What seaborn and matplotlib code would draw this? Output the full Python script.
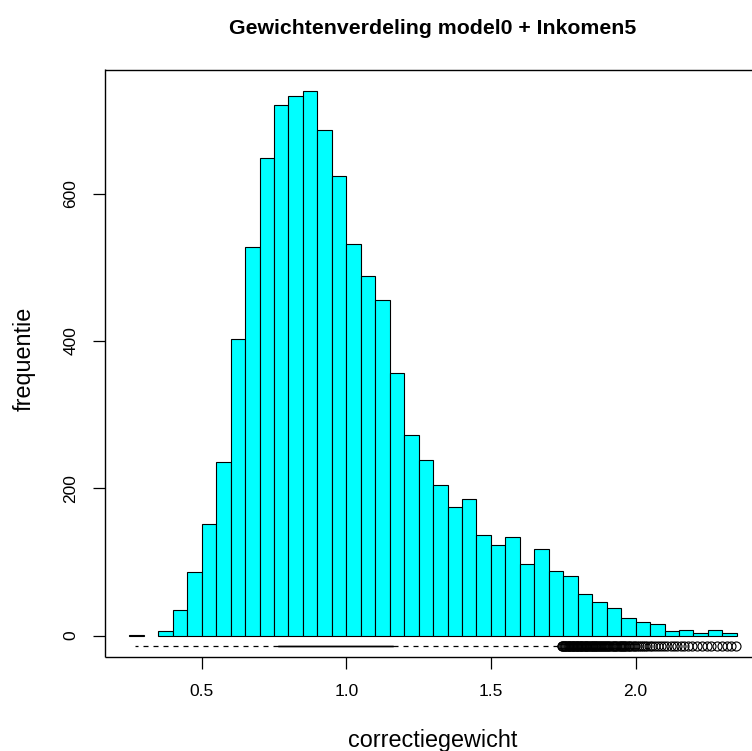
import matplotlib
matplotlib.use("Agg")
import matplotlib.pyplot as plt
import seaborn as sns

# ---- data ----
title = "Gewichtenverdeling model0 + Inkomen5"
x_label = "correctiegewicht"
y_label = "frequentie"

bin_edges = [0.25, 0.30, 0.35, 0.40, 0.45, 0.50, 0.55, 0.60, 0.65, 0.70,
             0.75, 0.80, 0.85, 0.90, 0.95, 1.00, 1.05, 1.10, 1.15, 1.20,
             1.25, 1.30, 1.35, 1.40, 1.45, 1.50, 1.55, 1.60, 1.65, 1.70,
             1.75, 1.80, 1.85, 1.90, 1.95, 2.00, 2.05, 2.10, 2.15, 2.20,
             2.25, 2.30, 2.35]
counts = [1, 0, 6, 34, 86, 151, 235, 402, 528, 648,
          720, 733, 739, 686, 624, 532, 488, 456, 356, 272,
          239, 205, 174, 185, 137, 123, 134, 97, 118, 87,
          81, 56, 45, 37, 24, 19, 15, 6, 8, 3,
          7, 3]

x_ticks = [0.5, 1.0, 1.5, 2.0]
x_tick_labels = ["0.5", "1.0", "1.5", "2.0"]
y_ticks = [0, 200, 400, 600]
y_tick_labels = ["0", "200", "400", "600"]

# boxplot summary of the same weights
box_q1 = 0.765
box_median = 0.93
box_q3 = 1.16
whisker_low = 0.27
whisker_high = 1.74
outliers = [1.744, 1.747, 1.749, 1.752, 1.755, 1.757, 1.760, 1.763, 1.766, 1.768,
            1.771, 1.774, 1.776, 1.779, 1.782, 1.785, 1.787, 1.790, 1.793, 1.796,
            1.798, 1.801, 1.804, 1.807, 1.810, 1.812, 1.815, 1.818, 1.821, 1.824,
            1.827, 1.830, 1.833, 1.836, 1.839, 1.842, 1.845, 1.848, 1.851, 1.854,
            1.858, 1.861, 1.864, 1.867, 1.871, 1.874, 1.877, 1.881, 1.884, 1.888,
            1.891, 1.895, 1.898, 1.902, 1.906, 1.909, 1.913, 1.917, 1.921, 1.925,
            1.929, 1.933, 1.937, 1.941, 1.945, 1.948, 1.952, 1.956, 1.960, 1.964,
            1.968, 1.972, 1.977, 1.982, 1.987, 1.993, 1.999, 2.006, 2.012, 2.019,
            2.026, 2.033, 2.041, 2.050, 2.058, 2.066, 2.077, 2.088, 2.097, 2.108,
            2.121, 2.132, 2.143, 2.158, 2.167, 2.181, 2.196, 2.212, 2.229, 2.247,
            2.262, 2.281, 2.299, 2.316, 2.331, 2.348]

# ---- styling ----
sns.set_theme(style="ticks")
plt.rcParams['font.family'] = ['Liberation Sans', 'DejaVu Sans']

W, H = 752, 751
fig = plt.figure(figsize=(W / 100, H / 100), dpi=100)
ax_left, ax_right, ax_top, ax_bottom = 105.0, 761.2, 69.5, 657.3
ax = fig.add_axes([ax_left / W, 1 - ax_bottom / H,
                   (ax_right - ax_left) / W, (ax_bottom - ax_top) / H])

centers = [(a + b) / 2 for a, b in zip(bin_edges[:-1], bin_edges[1:])]
sns.histplot(x=centers, weights=counts, bins=bin_edges, color="#00FFFF",
             edgecolor="black", linewidth=0.8, alpha=1, ax=ax)
for p in ax.patches:
    if p.get_height() == 0:
        p.set_visible(False)

stats = [dict(med=box_median, q1=box_q1, q3=box_q3,
              whislo=whisker_low, whishi=whisker_high, fliers=outliers)]
ax.bxp(stats, positions=[-14], widths=0.8, orientation='horizontal',
       showcaps=False, manage_ticks=False,
       boxprops=dict(color='black', lw=1.0),
       medianprops=dict(color='black', lw=1.0),
       whiskerprops=dict(color='black', lw=0.9, linestyle=(0, (4, 4))),
       flierprops=dict(marker='o', markerfacecolor='none', markeredgecolor='black',
                       markersize=6.5, markeredgewidth=0.8))

ax.set_xlim(0.166, 2.434)
ax.set_ylim(-29.56, 768.56)
ax.set_xticks(x_ticks, x_tick_labels)
ax.set_yticks(y_ticks, y_tick_labels)
ax.tick_params(axis='both', direction='out', length=8.6, width=0.9,
               color='black', labelsize=12.5, labelcolor='black', pad=10.5)
ax.tick_params(axis='y', labelrotation=90)
for lab in ax.get_yticklabels():
    lab.set_va('center')
for s in ax.spines.values():
    s.set_visible(True)
    s.set_color('black')
    s.set_linewidth(1.0)
    s.set_capstyle('butt')
ax.grid(False)

axh = ax_bottom - ax_top
axw = ax_right - ax_left
ax.set_xlabel(x_label, fontsize=16.8, color='black')
ax.xaxis.set_label_coords((433 - ax_left) / axw, (ax_bottom - 741) / axh)
ax.xaxis.label.set_va('center')
ax.set_ylabel(y_label, fontsize=16.8, color='black')
ax.yaxis.set_label_coords((24 - ax_left) / axw, (ax_bottom - 358.5) / axh)
ax.yaxis.label.set_va('center')
ax.yaxis.label.set_ha('center')
ax.set_title(title, fontsize=15.3, fontweight='bold', color='black',
             y=(ax_bottom - 28) / axh, pad=0, va='center')

fig.savefig("out.png", dpi=100)
